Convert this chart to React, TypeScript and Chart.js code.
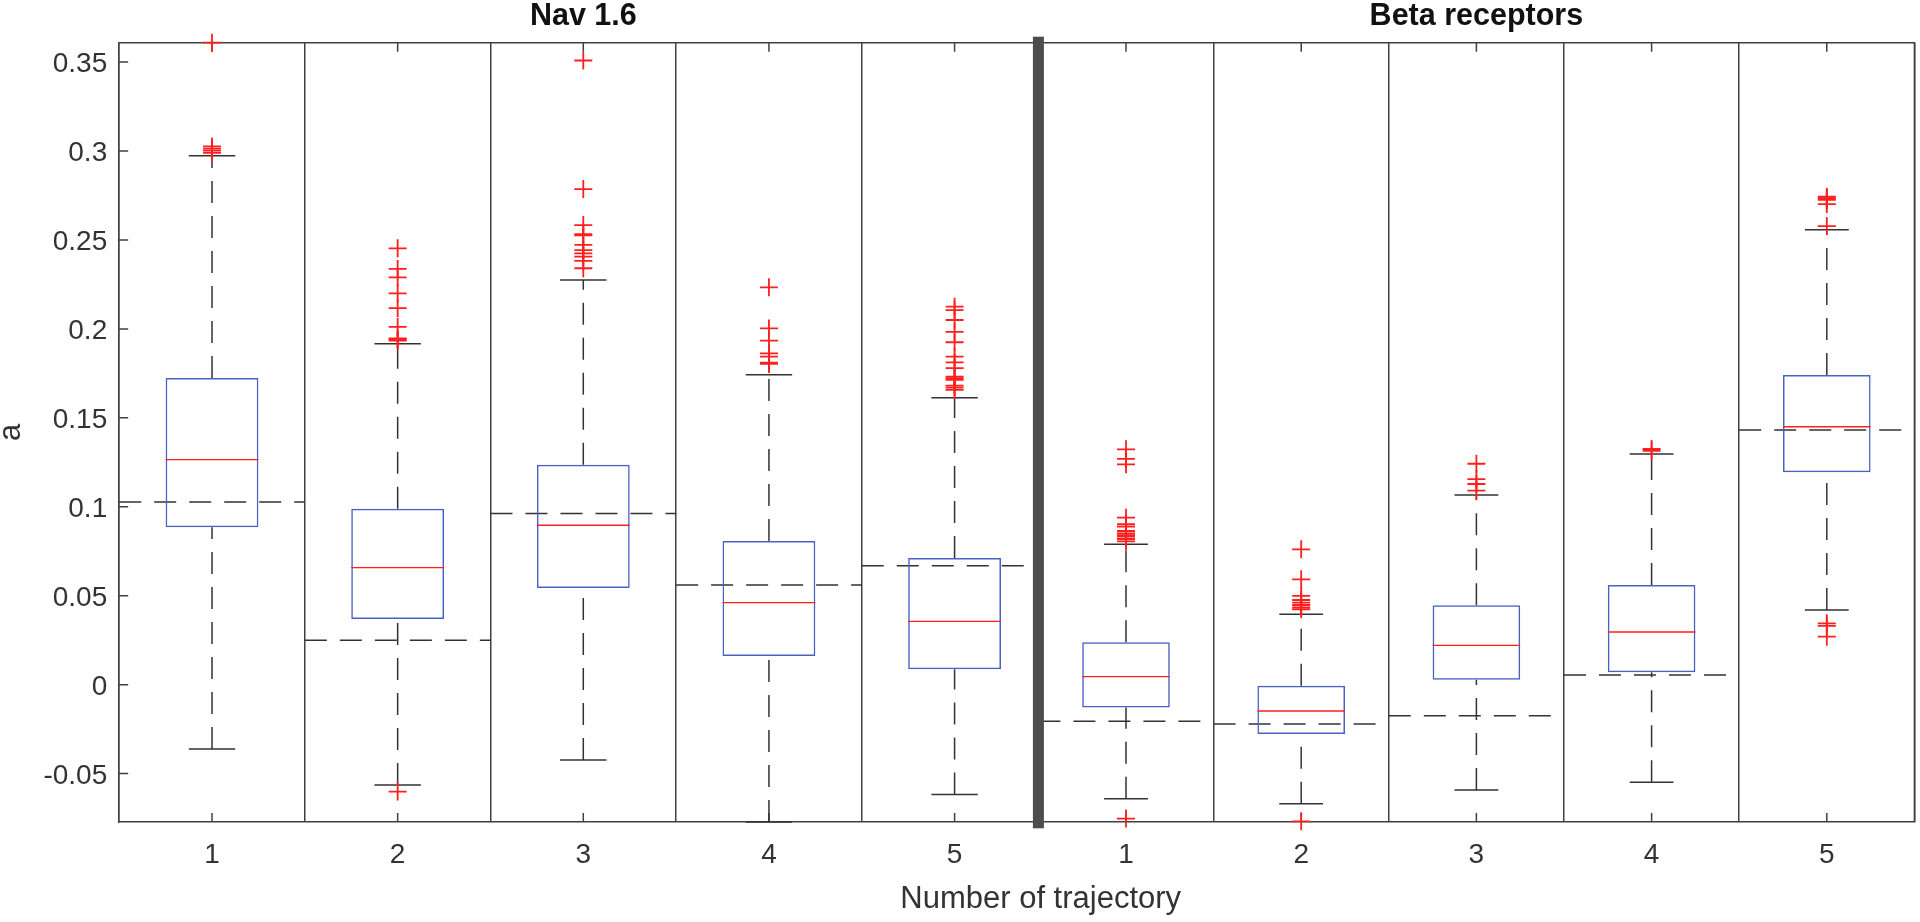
import React, { useEffect, useRef } from 'react';
import { Chart, registerables } from 'chart.js';

Chart.register(...registerables);

// ---------- data ----------
const categoryValues = [1, 2, 3, 4, 5];
const categoryLabels = ['1', '2', '3', '4', '5'];
const yTickValues = [-0.05, 0, 0.05, 0.1, 0.15, 0.2, 0.25, 0.3, 0.35];
const yTickLabels = ['-0.05', '0', '0.05', '0.1', '0.15', '0.2', '0.25', '0.3', '0.35'];
const yMin = -0.0772;
const yMax = 0.3609;

const yAxisTitle = 'a';
const xAxisTitle = 'Number of trajectory';

const navTitle = 'Nav 1.6';
const navQ1 = [0.0885, 0.0369, 0.0544, 0.0161, 0.0087];
const navMedian = [0.1265, 0.0658, 0.0896, 0.0461, 0.0356];
const navQ3 = [0.1724, 0.0989, 0.1237, 0.0808, 0.0712];
const navLower = [-0.0361, -0.0564, -0.0423, -0.0772, -0.0618];
const navUpper = [0.2974, 0.1917, 0.2275, 0.1743, 0.1613];
const navReference = [0.1027, 0.025, 0.0963, 0.056, 0.0669];
const navOutliers1 = [0.3609, 0.3026, 0.3013, 0.3002, 0.299];
const navOutliers2 = [0.2453, 0.2337, 0.229, 0.22, 0.2117, 0.2012, 0.1947, 0.1941, 0.1934, -0.0601];
const navOutliers3 = [0.3509, 0.2786, 0.2584, 0.2533, 0.2526, 0.2472, 0.2443, 0.2425, 0.2406, 0.2382, 0.2341];
const navOutliers4 = [0.2234, 0.2003, 0.1934, 0.1863, 0.1844, 0.181, 0.1803];
const navOutliers5 = [0.2125, 0.2106, 0.205, 0.1983, 0.1925, 0.1844, 0.1812, 0.1779, 0.1731, 0.1722, 0.1713, 0.1681, 0.167, 0.1657];

const betaTitle = 'Beta receptors';
const betaQ1 = [-0.0129, -0.0277, 0.0028, 0.007, 0.1194];
const betaMedian = [0.0045, -0.0148, 0.0221, 0.0296, 0.145];
const betaQ3 = [0.0238, -0.0006, 0.0446, 0.056, 0.1741];
const betaLower = [-0.0641, -0.0669, -0.0592, -0.0549, 0.042];
const betaUpper = [0.0789, 0.0396, 0.1066, 0.1297, 0.2558];
const betaReference = [-0.0206, -0.0221, -0.0174, 0.0055, 0.1432];
const betaOutliers1 = [0.1323, 0.1269, 0.1239, 0.0939, 0.0902, 0.0888, 0.0864, 0.0851, 0.0841, 0.0832, 0.0819, 0.0806, -0.0753];
const betaOutliers2 = [0.0761, 0.0592, 0.0499, 0.0476, 0.0461, 0.0448, 0.0435, 0.0424, -0.0768];
const betaOutliers3 = [0.1242, 0.1156, 0.1128, 0.1091];
const betaOutliers4 = [0.1325, 0.1315];
const betaOutliers5 = [0.2743, 0.2735, 0.2725, 0.2702, 0.2578, 0.0345, 0.033, 0.027];

// ---------- style ----------
const FONT = "'Liberation Sans', Arial, Helvetica, sans-serif";
const AXIS = '#404040';
const TEXT = '#333333';
const TITLE = '#111111';
const BOX = '#4862c4';
const RED = '#ff1f1f';
const WHISKER = '#333333';
const DASH = [22, 13];
const BOX_HALF = 0.25;
const CAP_HALF = 0.125;
const REF_HALF = 0.5;
const BETA_CANVAS_W = 1930;

function buildDatasets(q1: number[], med: number[], q3: number[], lo: number[], hi: number[], ref: number[], outliers: number[][]) {
  const medianPts: any[] = [];
  const capPts: any[] = [];
  const whiskerPts: any[] = [];
  const refPts: any[] = [];
  const outPts: any[] = [];
  categoryValues.forEach((c, i) => {
    const gap = { x: c, y: null };
    medianPts.push({ x: c - BOX_HALF, y: med[i] }, { x: c + BOX_HALF, y: med[i] }, gap);
    capPts.push({ x: c - CAP_HALF, y: hi[i] }, { x: c + CAP_HALF, y: hi[i] }, gap,
      { x: c - CAP_HALF, y: lo[i] }, { x: c + CAP_HALF, y: lo[i] }, gap);
    whiskerPts.push({ x: c, y: lo[i] }, { x: c, y: q1[i] }, gap, { x: c, y: q3[i] }, { x: c, y: hi[i] }, gap);
    refPts.push({ x: c - REF_HALF, y: ref[i] }, { x: c + REF_HALF, y: ref[i] }, gap);
    outliers[i].forEach((v) => outPts.push({ x: c, y: v }));
  });
  const lineBase = { pointRadius: 0, fill: false, spanGaps: false, tension: 0, clip: false };
  return [
    {
      type: 'scatter', data: outPts, pointStyle: 'cross', pointRadius: 9,
      pointBorderColor: RED, pointBorderWidth: 1.8, borderColor: RED, clip: false, order: 0,
    },
    { type: 'line', data: medianPts, borderColor: RED, borderWidth: 1.4, ...lineBase, order: 1 },
    {
      type: 'bar', data: categoryValues.map((c, i) => ({ x: c, y: [q1[i], q3[i]] })),
      borderColor: BOX, backgroundColor: 'rgba(0,0,0,0)', borderWidth: 1.5, borderSkipped: false,
      categoryPercentage: 1, barPercentage: 2 * BOX_HALF, grouped: false, clip: false, order: 2,
    },
    { type: 'line', data: capPts, borderColor: WHISKER, borderWidth: 1.5, ...lineBase, order: 3 },
    { type: 'line', data: whiskerPts, borderColor: WHISKER, borderWidth: 1.5, borderDash: DASH, ...lineBase, order: 4 },
    { type: 'line', data: refPts, borderColor: WHISKER, borderWidth: 1.5, borderDash: DASH, ...lineBase, order: 5 },
  ];
}

function framePlugin(withYTicks: boolean, whiteArea: boolean, thickLeft: boolean) {
  return {
    id: 'frame',
    beforeDraw(chart: any) {
      if (!whiteArea) return;
      const { ctx, chartArea: a } = chart;
      ctx.save();
      ctx.fillStyle = '#ffffff';
      ctx.fillRect(a.left, a.top - 1, a.right - a.left, a.bottom - a.top + 2);
      ctx.restore();
    },
    beforeDatasetsDraw(chart: any) {
      const { ctx, chartArea: a, scales } = chart;
      ctx.save();
      ctx.strokeStyle = AXIS;
      ctx.lineWidth = 1.5;
      ctx.beginPath();
      ctx.moveTo(a.left, a.top);
      ctx.lineTo(a.right, a.top);
      ctx.lineTo(a.right, a.bottom);
      scales.x.ticks.forEach((t: any) => {
        const px = scales.x.getPixelForValue(t.value);
        ctx.moveTo(px, a.top);
        ctx.lineTo(px, a.top + 9);
        ctx.moveTo(px, a.bottom);
        ctx.lineTo(px, a.bottom - 9);
      });
      if (withYTicks) {
        scales.y.ticks.forEach((t: any) => {
          const py = scales.y.getPixelForValue(t.value);
          ctx.moveTo(a.left, py);
          ctx.lineTo(a.left + 9, py);
        });
      }
      ctx.stroke();
      ctx.restore();
    },
    afterDraw(chart: any) {
      if (!thickLeft) return;
      const { ctx, chartArea: a } = chart;
      ctx.save();
      ctx.fillStyle = '#4d4d4f';
      ctx.fillRect(a.left - 5.5, a.top - 6, 11, a.bottom - a.top + 12.3);
      ctx.restore();
    },
  };
}

function makeConfig(title: string, datasets: any[], padding: any, showY: boolean, plugin: any) {
  return {
    type: 'bar',
    data: { datasets },
    plugins: [plugin],
    options: {
      responsive: false,
      animation: false,
      events: [],
      layout: { padding },
      plugins: {
        legend: { display: false },
        tooltip: { enabled: false },
        title: {
          display: true, text: title, fullSize: false, color: TITLE,
          font: { family: FONT, size: 30.5, weight: 'bold', lineHeight: 1 },
          padding: { top: 1.6, bottom: 10.6 },
        },
      },
      scales: {
        x: {
          type: 'linear', min: 0.5, max: 5.5, offset: false,
          afterBuildTicks: (s: any) => { s.ticks = categoryValues.map((v) => ({ value: v })); },
          afterFit: (s: any) => { s.height = 100; },
          ticks: {
            autoSkip: false, maxRotation: 0, padding: 16, color: TEXT,
            font: { family: FONT, size: 28 },
            callback: (v: number) => { const i = categoryValues.indexOf(v); return i >= 0 ? categoryLabels[i] : ''; },
          },
          grid: { offset: true, drawTicks: false, color: AXIS, lineWidth: 1.5 },
          border: { display: true, color: AXIS, width: 1.5 },
        },
        y: {
          type: 'linear', display: showY, min: yMin, max: yMax,
          afterBuildTicks: (s: any) => { s.ticks = yTickValues.map((v) => ({ value: v })); },
          afterFit: (s: any) => { s.width = showY ? 119.2 : 0; },
          ticks: {
            padding: 12, labelOffset: 2.5, color: TEXT,
            font: { family: FONT, size: 28 },
            callback: (v: number) => {
              const i = yTickValues.findIndex((t) => Math.abs(t - v) < 1e-9);
              return i >= 0 ? yTickLabels[i] : '';
            },
          },
          grid: { display: false, drawTicks: false },
          border: { display: true, color: AXIS, width: 1.5 },
          title: {
            display: true, text: yAxisTitle, color: TEXT,
            font: { family: FONT, size: 31, lineHeight: 0.7 },
            padding: { top: 0.5, bottom: 0 },
          },
        },
      },
    },
  };
}

export default function App() {
  const navRef = useRef<HTMLCanvasElement>(null);
  const betaRef = useRef<HTMLCanvasElement>(null);

  useEffect(() => {
    const navData = buildDatasets(navQ1, navMedian, navQ3, navLower, navUpper, navReference,
      [navOutliers1, navOutliers2, navOutliers3, navOutliers4, navOutliers5]);
    const betaData = buildDatasets(betaQ1, betaMedian, betaQ3, betaLower, betaUpper, betaReference,
      [betaOutliers1, betaOutliers2, betaOutliers3, betaOutliers4, betaOutliers5]);
    const nav = new Chart(navRef.current as any, makeConfig(navTitle, navData,
      { left: 0, right: 872.6, top: 0, bottom: 0 }, true, framePlugin(true, false, false)) as any);
    const beta = new Chart(betaRef.current as any, makeConfig(betaTitle, betaData,
      { left: 1038.4, right: BETA_CANVAS_W - 1914.4, top: 0, bottom: 0 }, false, framePlugin(false, true, true)) as any);
    return () => { nav.destroy(); beta.destroy(); };
  }, []);

  const navStyle: React.CSSProperties = { position: 'absolute', left: 0, top: 0, width: 1920, height: 922 };
  const betaStyle: React.CSSProperties = { position: 'absolute', left: 0, top: 0, width: BETA_CANVAS_W, height: 922 };
  return (
    <div style={{ position: 'fixed', left: 0, top: 0, width: 1920, height: 922, background: '#ffffff', overflow: 'hidden' }}>
      <canvas ref={navRef} width={1920} height={922} style={navStyle} />
      <canvas ref={betaRef} width={BETA_CANVAS_W} height={922} style={betaStyle} />
      <div style={{
        position: 'absolute', left: 1040.7, top: 882, transform: 'translateX(-50%)',
        fontFamily: FONT, fontSize: 31, lineHeight: '31px', color: TEXT, whiteSpace: 'nowrap',
      }}>{xAxisTitle}</div>
    </div>
  );
}
